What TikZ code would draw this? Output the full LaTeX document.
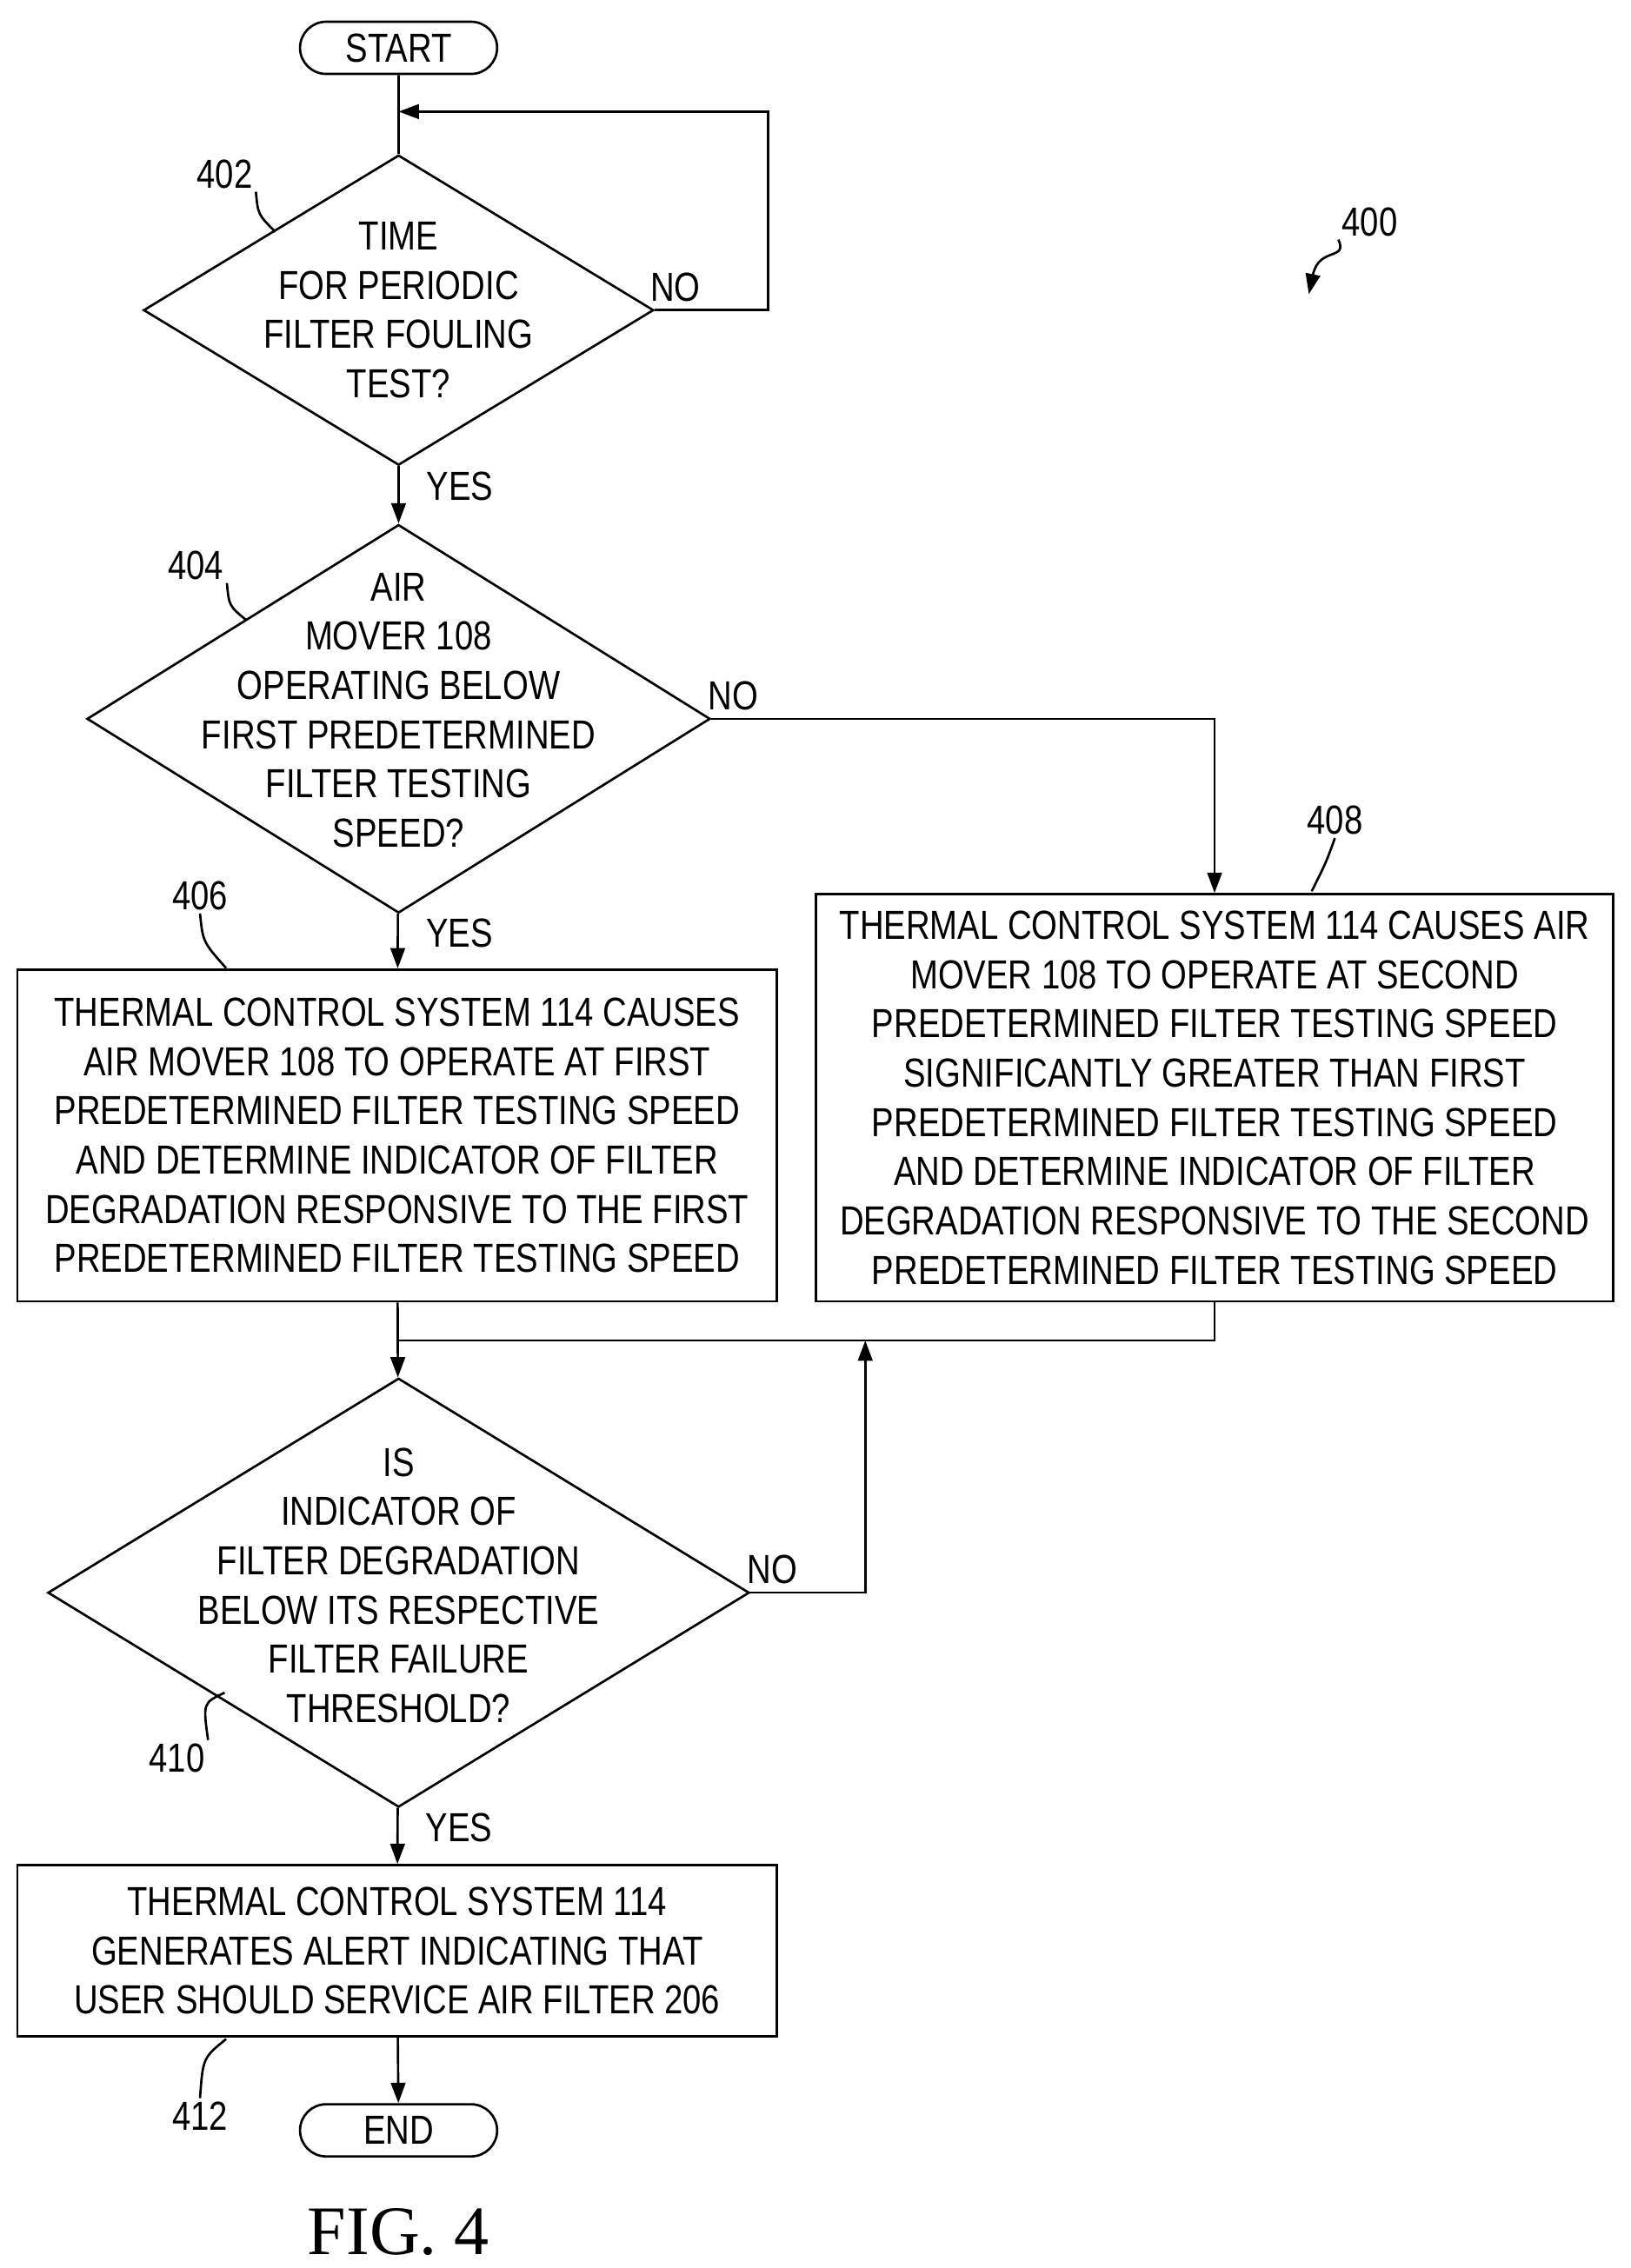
\documentclass[tikz,border=0pt]{standalone}
\usepackage{fontspec}
\setmainfont{Liberation Sans}[FakeStretch=0.82]
\newfontfamily\figfont{Liberation Serif}
\usetikzlibrary{arrows.meta,positioning,shapes.geometric,shapes.misc}

\begin{document}
\begin{tikzpicture}[x=0.5pt, y=-0.5pt, >={Triangle[length=7pt,width=5pt]},
    every node/.style={font=\fontsize{14pt}{17pt}\selectfont},
    term/.style={draw, thick, rounded rectangle, minimum width=68pt, minimum height=18pt, inner sep=0pt},
    dia/.style={draw, thick, diamond, inner sep=0pt},
    box/.style={draw, thick, rectangle, align=center, inner sep=0pt},
    txt/.style={align=center, inner sep=0pt},
    lbl/.style={inner sep=1pt},
    line/.style={thick}]
  \useasboundingbox (0,0) rectangle (1125,1565);

  % Terminators
  \node[term] (start) at (275,33) {START};
  \node[term] (end) at (275,1470) {END};

  % Decisions
  \node[dia, minimum width=176pt, minimum height=107pt] (d402) at (275,214) {};
  \node[txt] (t402) at (275,214) {TIME\\FOR PERIODIC\\FILTER FOULING\\TEST?};
  \node[dia, minimum width=215pt, minimum height=134pt] (d404) at (275,496) {};
  \node[txt] (t404) at (275,490) {AIR\\MOVER 108\\OPERATING BELOW\\FIRST PREDETERMINED\\FILTER TESTING\\SPEED?};
  \node[dia, minimum width=242pt, minimum height=148pt] (d410) at (275,1099) {};
  \node[txt] (t410) at (275,1094) {IS\\INDICATOR OF\\FILTER DEGRADATION\\BELOW ITS RESPECTIVE\\FILTER FAILURE\\THRESHOLD?};

  % Processes
  \node[box, minimum width=262pt, minimum height=114.5pt] (b406) at (274,783.5)
    {THERMAL CONTROL SYSTEM 114 CAUSES\\AIR MOVER 108 TO OPERATE AT FIRST\\PREDETERMINED FILTER TESTING SPEED\\AND DETERMINE INDICATOR OF FILTER\\DEGRADATION RESPONSIVE TO THE FIRST\\PREDETERMINED FILTER TESTING SPEED};
  \node[box, minimum width=275pt, minimum height=140.5pt] (b408) at (838,757.5)
    {THERMAL CONTROL SYSTEM 114 CAUSES AIR\\MOVER 108 TO OPERATE AT SECOND\\PREDETERMINED FILTER TESTING SPEED\\SIGNIFICANTLY GREATER THAN FIRST\\PREDETERMINED FILTER TESTING SPEED\\AND DETERMINE INDICATOR OF FILTER\\DEGRADATION RESPONSIVE TO THE SECOND\\PREDETERMINED FILTER TESTING SPEED};
  \node[box, minimum width=262pt, minimum height=59pt] (b412) at (274,1346)
    {THERMAL CONTROL SYSTEM 114\\GENERATES ALERT INDICATING THAT\\USER SHOULD SERVICE AIR FILTER 206};

  % Flow
  \coordinate (loop) at (275,77);
  \coordinate (merge) at (274,925);
  \draw[line] (start) -- (d402);
  \draw[line,->] (d402.east) -| (530,77) -- (loop);
  \draw[line,->] (d402) -- (d404) node[pos=0.35, right=6pt] {YES};
  \draw[line,->] (d404.east) -| (b408.north);
  \draw[line,->] (d404) -- (b406) node[pos=0.35, right=6pt] {YES};
  \draw[line,->] (b406) -- (d410);
  \draw[line] (b408.south) |- (merge);
  \draw[line,->] (d410.east) -| (597,925);
  \draw[line,->] (d410) -- (b412) node[pos=0.35, right=6pt] {YES};
  \draw[line,->] (b412) -- (end);
  \node[lbl] (no402) at (466,198) {NO};
  \node[lbl] (no404) at (506,480) {NO};
  \node[lbl] (no410) at (533,1083) {NO};

  % Reference numerals
  \node[lbl] (n402) at (155,120) {402};
  \draw[line] (n402.south east) .. controls (178,148) .. (190,160);
  \node[lbl] (n404) at (135,390) {404};
  \draw[line] (n404.south east) .. controls (158,418) .. (170,428);
  \node[lbl] (n406) at (138,618) {406};
  \draw[line] (n406.south) .. controls (140,650) .. (156,668);
  \node[lbl] (n408) at (921,566) {408};
  \draw[line] (n408.south) .. controls (915,595) .. (905,615);
  \node[lbl] (n410) at (122,1213) {410};
  \draw[line] (n410.north east) .. controls (140,1175) .. (155,1168);
  \node[lbl] (n412) at (138,1460) {412};
  \draw[line] (n412.north) .. controls (140,1420) .. (156,1407);
  \node[lbl] (n400) at (945,153) {400};
  \draw[line,->] (n400.south west) .. controls (930,180) and (910,170) .. (903,203);

  \node (fig) at (275,1540) {\figfont\fontsize{24pt}{28pt}\selectfont FIG. 4};
\end{tikzpicture}
\end{document}
